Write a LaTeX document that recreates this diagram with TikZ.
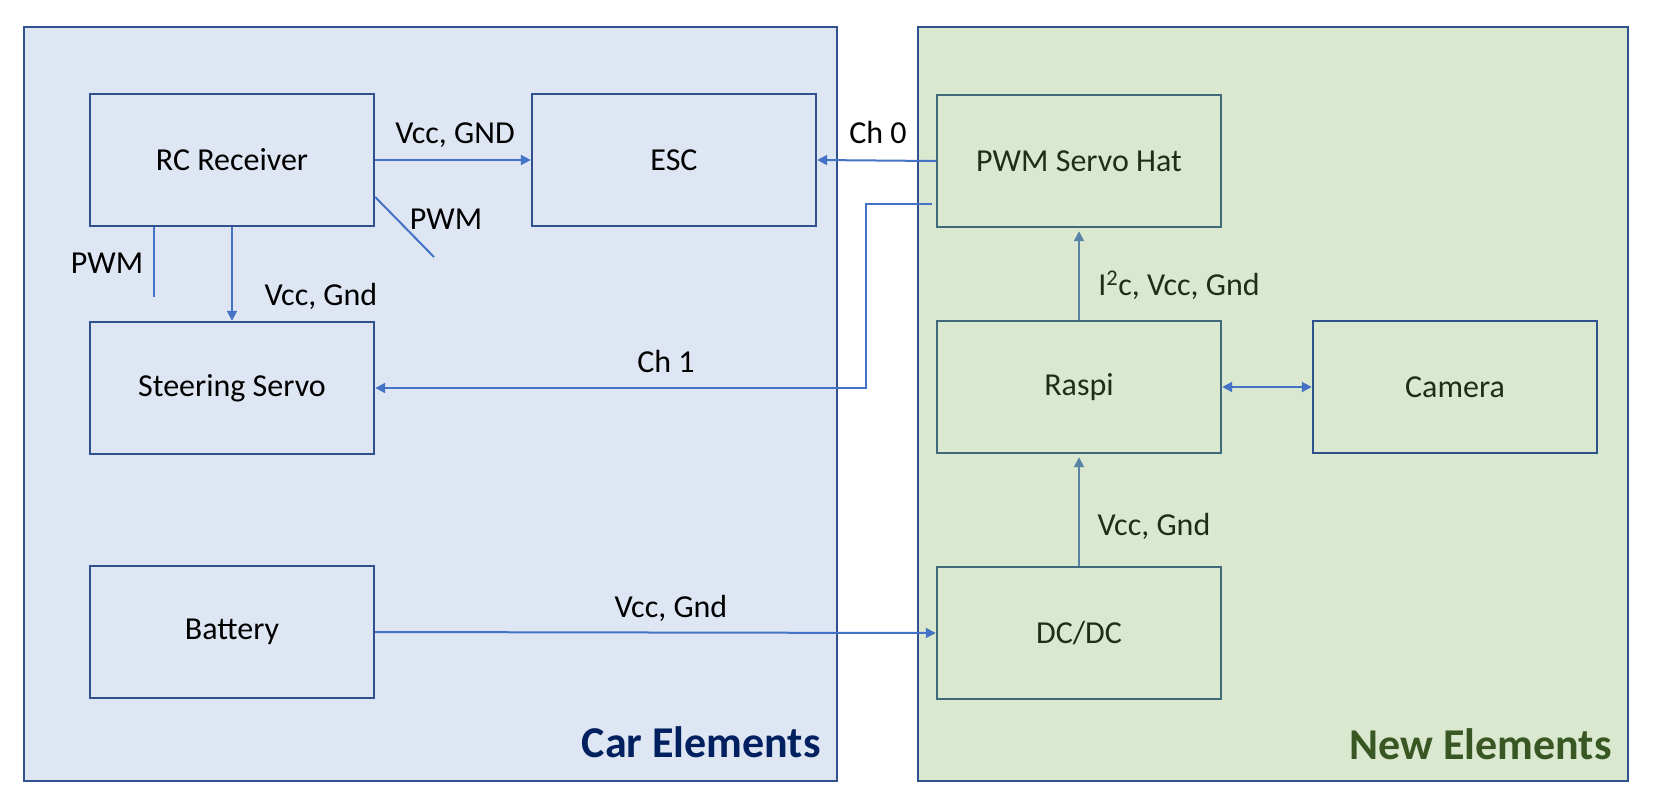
\documentclass[tikz,border=0pt]{standalone}
\usepackage{fontspec}
\setmainfont{Carlito}
\usepackage{tikz}
\usetikzlibrary{arrows.meta}
\definecolor{carfill}{HTML}{DFE6F3}
\definecolor{newfill}{HTML}{DAE8D0}
\definecolor{frameblue}{HTML}{2F528F}
\definecolor{boxteal}{HTML}{41697E}
\definecolor{wireblue}{HTML}{4472C4}
\definecolor{wiregray}{HTML}{5A84A6}
\definecolor{carnavy}{HTML}{002060}
\definecolor{newgreen}{HTML}{385723}
\definecolor{inkgreen}{HTML}{1F2E17}

\begin{document}
\begin{tikzpicture}[x=1pt,y=-1pt,
	panel/.style={draw=frameblue,line width=2pt,inner sep=0pt},
	box/.style={draw=frameblue,line width=2.4pt,minimum width=284pt,minimum height=132pt,inner sep=0pt,font=\fontsize{32}{38}\selectfont},
	newbox/.style={box,draw=boxteal,text=inkgreen},
	tag/.style={anchor=base,inner sep=0pt,font=\fontsize{32}{38}\selectfont},
	title/.style={anchor=base east,inner sep=0pt,font=\fontsize{44}{52}\selectfont\bfseries},
	wire/.style={draw=wireblue,line width=2pt},
	link/.style={wire,-{Triangle[length=10pt,width=10pt]}},
	link2/.style={link,draw=wiregray,shorten >=3pt}]
\useasboundingbox[fill=white] (0,0) rectangle (1654,796);
\node[panel,fill=carfill,minimum width=813pt,minimum height=754pt] (car) at (430.5,404) {};
\node[panel,fill=newfill,minimum width=710pt,minimum height=754pt] (new) at (1273,404) {};
\node[title,text=carnavy] (cartitle) at (821,757) {Car Elements};
\node[title,text=newgreen] (newtitle) at (1612,759) {New Elements};

	\node[box] (rcrx) at (232,160) {RC Receiver};
	\node[box] (esc) at (674,160) {ESC};
	\node[box] (servo) at (232,388) {Steering Servo};
	\node[box] (battery) at (232,632) {Battery};
	\node[newbox] (hat) at (1079,161) {PWM Servo Hat};
	\node[newbox] (raspi) at (1079,387) {Raspi};
	\node[box,text=inkgreen] (camera) at (1455,387) {Camera};
	\node[newbox] (dcdc) at (1079,633) {DC/DC};

	\coordinate (pwmtip) at (434,257);
	\coordinate (pwmleft) at (154,297);
	\coordinate (bend) at (866,204);

	\draw[link] (rcrx.east) -- (esc.west);
	\draw[wire] ([yshift=-37pt]rcrx.east) -- (pwmtip);
	\draw[wire] (rcrx.south -| pwmleft) -- (pwmleft);
	\draw[link] (rcrx.south) -- (servo.north);
	\draw[link] (hat.west) -- (esc.east);
	\draw[link] ([yshift=-43pt,xshift=-4pt]hat.west) -- (bend) |- (servo.east);
	\draw[link2] (raspi.north) -- (hat.south);
	\draw[link,{Triangle[length=10pt,width=10pt]}-{Triangle[length=10pt,width=10pt]}] (raspi.east) -- (camera.west);
	\draw[link2] (dcdc.north) -- (raspi.south);
	\draw[link] (battery.east) -- (dcdc.west);

	\node[tag] (l1) at (455,143) {Vcc, GND};
	\node[tag] (l2) at (446,229) {PWM};
	\node[tag] (l3) at (107,273) {PWM};
	\node[tag] (l4) at (321,305) {Vcc, Gnd};
	\node[tag] (l5) at (666,372) {Ch 1};
	\node[tag] (l6) at (878,143) {Ch 0};
	\node[tag,text=inkgreen] (l7) at (1179,295) {I\textsuperscript{2}c, Vcc, Gnd};
	\node[tag,text=inkgreen] (l8) at (1154,535) {Vcc, Gnd};
	\node[tag] (l9) at (671,617) {Vcc, Gnd};
\end{tikzpicture}
\end{document}
